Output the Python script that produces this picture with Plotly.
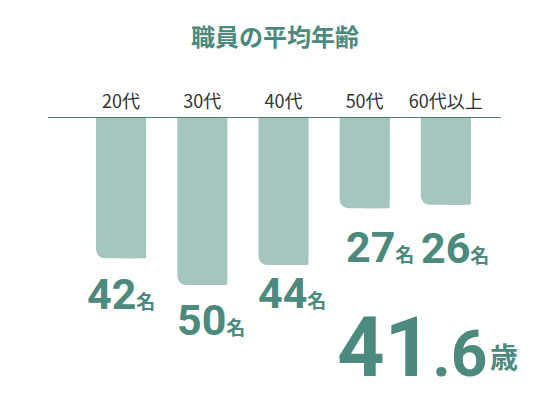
from plotly import graph_objects as go

TEAL = "#4b8a7d"
BAR_COLOUR = "#a7c5bf"
LINE_COLOUR = "#4d7f76"

# Data
age_groups = ["20代", "30代", "40代", "50代", "60代以上"]
staff_counts = [42, 50, 44, 27, 26]
average_age = "41.6"

BAR_WIDTH = 0.616
# pixel nudges for the count labels (visual tuning)
label_gaps = [9, 8, 1, 12, 16]
label_xshifts = [-11, -2, -2, 4, -2]

fig = go.Figure()

# Full bar with rounded tip
fig.add_trace(
    go.Bar(
        x=list(range(len(age_groups))),
        y=staff_counts,
        width=BAR_WIDTH,
        marker={"color": BAR_COLOUR, "cornerradius": 9, "line": {"width": 0}},
        hoverinfo="skip",
    )
)
# Square right half so only the bottom-left corner stays rounded
fig.add_trace(
    go.Bar(
        x=list(range(len(age_groups))),
        y=staff_counts,
        width=BAR_WIDTH / 2,
        offset=0,
        marker={"color": BAR_COLOUR, "line": {"width": 0}},
        hoverinfo="skip",
    )
)

annotations = []
for idx, count in enumerate(staff_counts):
    annotations.append(
        {
            "x": idx - BAR_WIDTH / 2,
            "y": count,
            "xref": "x",
            "yref": "y",
            "xanchor": "left",
            "yanchor": "top",
            "xshift": label_xshifts[idx],
            "yshift": -label_gaps[idx],
            "showarrow": False,
            "text": f"<b>{count}</b><b><span style='font-size:19px'>名</span></b>",
            "font": {"family": "Roboto, Noto Sans CJK JP", "size": 43, "color": TEAL},
        }
    )

# Average age, big figure with small unit
whole, frac = average_age.split(".")
annotations.append(
    {
        "x": 0.634,
        "y": 0,
        "xref": "paper",
        "yref": "paper",
        "xanchor": "left",
        "yanchor": "bottom",
        "showarrow": False,
        "text": (
            f"<b>{whole}</b>"
            f"<b><span style='font-size:64px'>.{frac}</span></b>"
        ),
        "font": {"family": "Roboto, Noto Sans CJK JP", "size": 83, "color": TEAL},
    }
)
annotations.append(
    {
        "x": 0.971,
        "y": 0,
        "xref": "paper",
        "yref": "paper",
        "xanchor": "left",
        "yanchor": "bottom",
        "yshift": 20,
        "showarrow": False,
        "text": "<b>歳</b>",
        "font": {"family": "Noto Sans CJK JP", "size": 28, "color": TEAL},
    }
)

fig.update_layout(
    width=550,
    height=400,
    margin={"l": 48, "r": 49, "t": 118, "b": 2},
    paper_bgcolor="white",
    plot_bgcolor="white",
    barmode="overlay",
    showlegend=False,
    title={
        "text": "<b>職員の平均年齢</b>",
        "x": 0.5,
        "xanchor": "center",
        "y": 0.905,
        "yanchor": "middle",
        "font": {"family": "Noto Sans CJK JP", "size": 24, "color": TEAL},
    },
    xaxis={
        "side": "top",
        "range": [-0.9, 4.68],
        "tickmode": "array",
        "tickvals": list(range(len(age_groups))),
        "ticktext": age_groups,
        "showline": True,
        "linecolor": LINE_COLOUR,
        "linewidth": 1,
        "showgrid": False,
        "zeroline": False,
        "ticks": "outside",
        "ticklen": 2,
        "tickcolor": "rgba(0,0,0,0)",
        "tickfont": {"family": "Noto Sans CJK JP", "size": 18, "color": "#333333"},
        "automargin": False,
        "fixedrange": True,
    },
    yaxis={
        "range": [83.8, 0],
        "autorange": False,
        "visible": False,
        "fixedrange": True,
    },
    annotations=annotations,
)

# drop the default page margin so the figure sits at the window's corner
fig.write_html(
    "out.html",
    config={"displayModeBar": False},
    post_script="document.body.style.margin = '0';",
)
